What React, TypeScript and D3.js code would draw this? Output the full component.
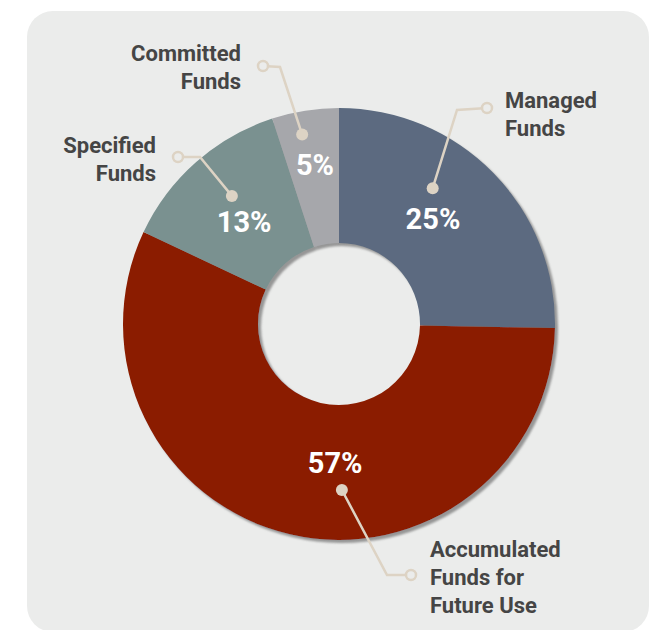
import React from "react";
import * as d3 from "d3";

const categories = ["Managed Funds", "Accumulated Funds for Future Use", "Specified Funds", "Committed Funds"];
const values = [25.3, 56.7, 13.0, 5.0];
const percentLabels = ["25%", "57%", "13%", "5%"];
const labelLines = [["Managed", "Funds"], ["Accumulated", "Funds for", "Future Use"], ["Specified", "Funds"], ["Committed", "Funds"]];
const colors = ["#5b6b80", "#8b1f03", "#7a9190", "#a6a7ab"];

const W = 659, H = 630;
const cx = 339, cy = 324, outerR = 216, innerR = 81;

// annotation layout (polar positions relative to center, callout geometry)
const layout = [
  { pctA: 41.8, pctR: 141, dotA: 34.6, dotR: 165, elbow: [457, 110], ring: [487, 108], text: [505, 100], anchor: "start" },
  { pctA: 181.6, pctR: 139, dotA: 179, dotR: 166, elbow: [387, 575], ring: [411, 575], text: [430, 549], anchor: "start" },
  { pctA: -43, pctR: 139, dotA: -39.9, dotR: 167, elbow: [200, 157], ring: [178, 157], text: [156, 145], anchor: "end" },
  { pctA: -8.6, pctR: 161, dotA: -11, dotR: 193, elbow: [280, 67], ring: [263, 66], text: [241, 53], anchor: "end" },
];

const polar = (aDeg: number, r: number) => {
  const a = (aDeg * Math.PI) / 180;
  return [cx + r * Math.sin(a), cy - r * Math.cos(a)];
};

export default function App() {
  const pie = d3.pie<number>().sort(null).value((d) => d);
  const arcs = pie(values);
  const arcGen = d3.arc<d3.PieArcDatum<number>>().innerRadius(innerR).outerRadius(outerR);
  const beige = "#ddd3c4";
  const bg = "#ebeceb";
  return (
    <svg width={W} height={H} style={{ position: "absolute", left: 0, top: 0 }}>
      <defs>
        <filter id="sh" x="-20%" y="-20%" width="140%" height="140%">
          <feDropShadow dx="3" dy="3" stdDeviation="1" floodColor="#7a7a7a" floodOpacity="0.75" />
        </filter>
      </defs>
      <rect x={27} y={11} width={622} height={621} rx={26} fill={bg} />
      <g transform={`translate(${cx},${cy})`} filter="url(#sh)">
        {arcs.map((a, i) => (
          <path key={categories[i]} d={arcGen(a) || ""} fill={colors[i]} />
        ))}
      </g>
      {layout.map((l, i) => {
        const [dx, dy] = polar(l.dotA, l.dotR);
        const [px, py] = polar(l.pctA, l.pctR);
        return (
          <g key={i}>
            <polyline points={`${dx},${dy} ${l.elbow[0]},${l.elbow[1]} ${l.ring[0]},${l.ring[1]}`} fill="none" stroke={beige} strokeWidth={2.5} />
            <circle cx={dx} cy={dy} r={6} fill={beige} />
            <circle cx={l.ring[0]} cy={l.ring[1]} r={5} fill={bg} stroke={beige} strokeWidth={2.5} />
            <text x={px} y={py} fill="#fff" fontFamily="Roboto" fontWeight={700} fontSize={29} textAnchor="middle" dominantBaseline="central">{percentLabels[i]}</text>
            {labelLines[i].map((t, j) => (
              <text key={j} x={l.text[0]} y={l.text[1] + j * 28} fill="#454545" fontFamily="Roboto" fontWeight={700} fontSize={22} textAnchor={l.anchor as any} dominantBaseline="central">{t}</text>
            ))}
          </g>
        );
      })}
    </svg>
  );
}
